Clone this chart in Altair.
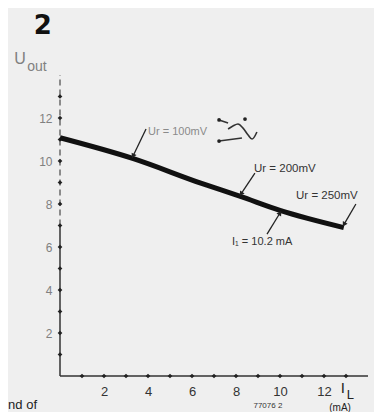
import math
import altair as alt
import pandas as pd

# --- data ---
I_L = [0.0, 3.3, 6.4, 8.2, 10.0, 12.9]          # mA
U_out = [11.08, 10.12, 8.97, 8.35, 7.7, 6.9]     # V

x_tick_values = list(range(1, 14))
y_tick_values = list(range(1, 14))
x_label_values = [2, 4, 6, 8, 10, 12]
y_label_values = [2, 4, 6, 8, 10, 12]

# annotation labels (text, I, U, font size)
ann_text = ["Ur = 100mV", "Ur = 200mV", "Ur = 250mV", "I\u2081 = 10.2 mA"]
ann_x = [4.0, 8.82, 10.73, 7.82]
ann_y = [11.35, 9.63, 8.37, 6.23]
ann_size = [11, 11.5, 11.5, 11]
ann_color = ["#8a8a8a", "#333333", "#333333", "#333333"]

# annotation arrows (from -> to, in data units)
arr_x1 = [3.91, 8.86, 13.45, 9.41]
arr_y1 = [11.49, 9.44, 8.0, 6.6]
arr_x2 = [3.32, 8.23, 12.91, 10.0]
arr_y2 = [10.23, 8.47, 7.05, 7.58]

# ripple symbol (a small hand-drawn sine), segments by id
sym_id = ["a", "a", "w", "w", "w", "w", "w", "w", "w", "b", "b"]
sym_x = [7.23, 7.64, 7.64, 7.86, 8.09, 8.32, 8.55, 8.73, 8.95, 7.23, 8.27]
sym_y = [11.91, 11.77, 11.49, 11.63, 11.72, 11.53, 11.21, 11.02, 11.35, 10.93, 11.07]
dot_x = [7.23, 7.23, 8.41]
dot_y = [11.91, 10.93, 11.95]

# other free text (text, I, U, size, align, color)
misc_text = ["U", "out", "I", "L", "(mA)", "77076 2", "nd of"]
misc_x = [-1.82, -1.49, 12.86, 13.2, 12.73, 9.45, -2.36]
misc_y = [14.75, 14.35, -0.55, -0.88, -1.47, -1.4, -1.35]
misc_size = [16, 14, 15, 13, 10, 8, 13]
misc_align = ["center", "left", "center", "center", "center", "center", "left"]
misc_color = ["#808080", "#808080", "#222222", "#222222", "#222222", "#333333", "#222222"]

fig_label = "2"

# --- tables ---
line_df = pd.DataFrame({"I": I_L, "U": U_out})
xt_df = pd.DataFrame({"I": x_tick_values, "U": [0] * len(x_tick_values)})
yt_df = pd.DataFrame({"I": [0] * len(y_tick_values), "U": y_tick_values})
ann_df = pd.DataFrame({"t": ann_text, "I": ann_x, "U": ann_y, "s": ann_size, "c": ann_color})
PX_X, PX_Y = 22.0, 21.5
angles = []
for a, b, c, d in zip(arr_x1, arr_y1, arr_x2, arr_y2):
    dx = (c - a) * PX_X
    dy = -(d - b) * PX_Y
    angles.append(math.degrees(math.atan2(dx, -dy)) % 360)
arr_df = pd.DataFrame({"I": arr_x1, "U": arr_y1, "I2": arr_x2, "U2": arr_y2})
head_df = pd.DataFrame({"I": arr_x2, "U": arr_y2, "ang": angles})
sym_df = pd.DataFrame({"id": sym_id, "I": sym_x, "U": sym_y, "o": list(range(len(sym_x)))})
dot_df = pd.DataFrame({"I": dot_x, "U": dot_y})
misc_df = pd.DataFrame({"t": misc_text, "I": misc_x, "U": misc_y, "s": misc_size,
                        "a": misc_align, "c": misc_color})
axes_df = pd.DataFrame({"I": [0, 0, 0], "U": [0, 0, 7], "I2": [14, 0, 0], "U2": [0, 7, 14],
                        "dash": ["solid", "solid", "dashed"]})
fig_df = pd.DataFrame({"t": [fig_label], "I": [-0.78], "U": [16.3]})

FONT = "Liberation Sans"
xs = alt.Scale(domain=[0, 14], nice=False, zero=False)
ys = alt.Scale(domain=[0, 14], nice=False, zero=False)
x_axis = alt.Axis(values=x_label_values, domain=False, ticks=False, grid=False, title=None,
                  labelFontSize=13, labelPadding=9, labelColor="#333333", labelFont=FONT)
y_axis = alt.Axis(values=y_label_values, domain=False, ticks=False, grid=False, title=None,
                  labelFontSize=12, labelPadding=8, labelColor="#808080", labelFont=FONT)
X = alt.X("I:Q", scale=xs, axis=x_axis)
Y = alt.Y("U:Q", scale=ys, axis=y_axis)

line = alt.Chart(line_df).mark_line(color="#111111", strokeWidth=5, strokeCap="butt",
                                    interpolate="monotone").encode(x=X, y=Y)

axes_solid = alt.Chart(axes_df[axes_df.dash == "solid"]).mark_rule(color="#333333", strokeWidth=1.5).encode(
    x=X, y=Y, x2="I2:Q", y2="U2:Q")
axes_dashed = alt.Chart(axes_df[axes_df.dash == "dashed"]).mark_rule(
    color="#555555", strokeWidth=1.3, strokeDash=[6, 4]).encode(x=X, y=Y, x2="I2:Q", y2="U2:Q")

xticks = alt.Chart(xt_df).mark_point(shape="diamond", filled=True, color="#222222", size=22, opacity=1).encode(x=X, y=Y)
yticks = alt.Chart(yt_df).mark_point(shape="diamond", filled=True, color="#222222", size=22, opacity=1).encode(x=X, y=Y)

arrows = alt.Chart(arr_df).mark_rule(color="#222222", strokeWidth=1.3).encode(x=X, y=Y, x2="I2:Q", y2="U2:Q")
heads = alt.Chart(head_df).mark_point(shape="triangle-up", filled=True, color="#222222", size=30, opacity=1).encode(
    x=X, y=Y, angle=alt.Angle("ang:Q", scale=None))

sym = alt.Chart(sym_df).mark_line(color="#333333", strokeWidth=1.6, interpolate="monotone").encode(
    x=X, y=Y, detail="id:N", order="o:Q")
dots = alt.Chart(dot_df).mark_point(filled=True, color="#222222", size=14, opacity=1).encode(x=X, y=Y)

ann = alt.Chart(ann_df).mark_text(align="left", baseline="middle", font=FONT).encode(
    x=X, y=Y, text="t:N", size=alt.Size("s:Q", scale=None), color=alt.Color("c:N", scale=None))

misc_layers = []
for al in ["left", "center"]:
    sub = misc_df[misc_df.a == al]
    misc_layers.append(alt.Chart(sub).mark_text(align=al, baseline="middle", font=FONT).encode(
        x=X, y=Y, text="t:N", size=alt.Size("s:Q", scale=None), color=alt.Color("c:N", scale=None)))

fig = alt.Chart(fig_df).mark_text(align="center", baseline="middle", font="DejaVu Sans",
                                  fontWeight="bold", fontSize=26, color="#111111").encode(x=X, y=Y, text="t:N")

chart = alt.layer(axes_solid, axes_dashed, xticks, yticks, line, arrows, heads, sym, dots, ann,
                  *misc_layers, fig).properties(
    width=308, height=301,
    autosize=alt.AutoSizeParams(type="none"),
    padding={"left": 52, "top": 67, "right": 6, "bottom": 36},
    background="#efefef",
).configure_view(stroke=None)

chart.save("out.html", embed_options={"renderer": "svg", "actions": False})
